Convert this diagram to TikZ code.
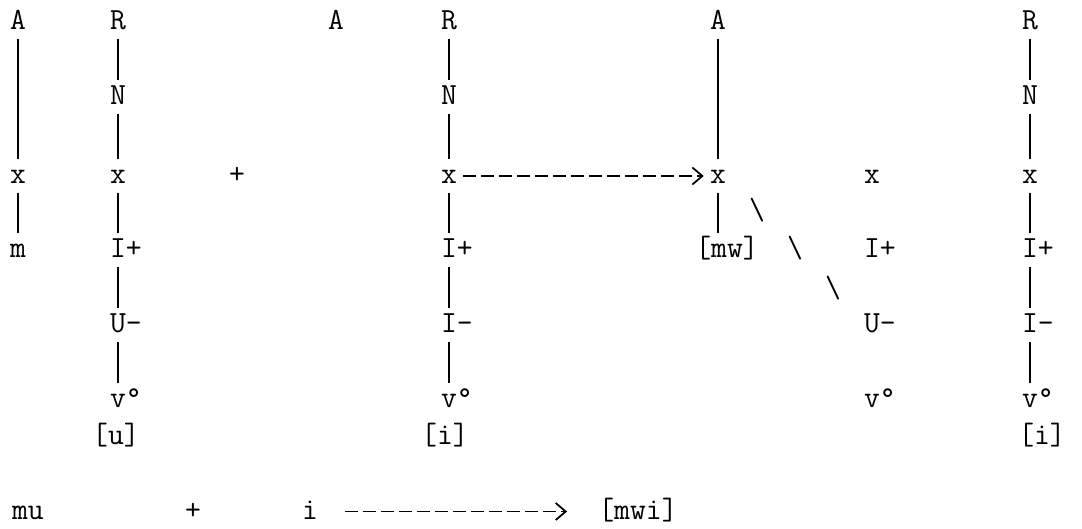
\documentclass[tikz,border=0pt]{standalone}
\usepackage{tikz}
\usetikzlibrary{positioning,arrows.meta}

\begin{document}
\begin{tikzpicture}[
  sym/.style={font=\fontsize{17.5}{20}\selectfont\ttfamily, inner sep=0.12cm, text height=0.37cm, text depth=0.05cm},
  link/.style={line width=0.7pt},
  dasharrow/.style={line width=1pt, dash pattern=on 0.26cm off 0.1cm, -{Straight Barb[length=0.2cm,width=0.34cm,line width=1pt]}}
]
  \useasboundingbox (0,0) rectangle (21.64,10.56);

  % Column 1: A / x / m
  \node[sym] (a1) at (0.36,10.12) {A};
  \node[sym] (x1) at (0.36,7.04) {x};
  \node[sym] (m1) at (0.36,5.56) {m};
  \draw[link] (a1) -- (x1);
  \draw[link] (x1) -- (m1);

  % Column 2: R / N / x / I+ / U- / v
  \node[sym] (r2) at (2.36,10.12) {R};
  \node[sym] (n2) at (2.36,8.62) {N};
  \node[sym] (x2) at (2.36,7.04) {x};
  \node[sym] (i2) at (2.36,5.56) {I\rlap{+}};
  \node[sym] (u2) at (2.36,4.06) {U\rlap{-}};
  \node[sym] (v2) at (2.36,2.56) {v\rlap{\textdegree}};
  \node[sym] (b2) at (2.32,1.82) {[u]};
  \draw[link] (r2) -- (n2);
  \draw[link] (n2) -- (x2);
  \draw[link] (x2) -- (i2);
  \draw[link] (i2) -- (u2);
  \draw[link] (u2) -- (v2);

  \node[sym] (plus1) at (4.74,7.04) {+};

  % Column 3: lone A
  \node[sym] (a3) at (6.72,10.12) {A};

  % Column 4: R / N / x / I+ / I- / v
  \node[sym] (r4) at (8.98,10.12) {R};
  \node[sym] (n4) at (8.98,8.62) {N};
  \node[sym] (x4) at (8.98,7.04) {x};
  \node[sym] (i4) at (8.98,5.56) {I\rlap{+}};
  \node[sym] (j4) at (8.98,4.06) {I\rlap{-}};
  \node[sym] (v4) at (8.98,2.56) {v\rlap{\textdegree}};
  \node[sym] (b4) at (8.90,1.82) {[i]};
  \draw[link] (r4) -- (n4);
  \draw[link] (n4) -- (x4);
  \draw[link] (x4) -- (i4);
  \draw[link] (i4) -- (j4);
  \draw[link] (j4) -- (v4);

  % Column 5: A / x / [mw]
  \node[sym] (a5) at (14.36,10.12) {A};
  \node[sym] (x5) at (14.36,7.04) {x};
  \node[sym] (mw5) at (14.54,5.56) {[mw]};
  \draw[link] (a5) -- (x5);
  \draw[link] (x5) -- (x5 |- mw5.north);
  \draw[dasharrow] (x4) -- (x5);

  % typed diagonal
  \node[sym] (bs1) at (15.14,6.32) {\textbackslash};
  \node[sym] (bs2) at (15.90,5.56) {\textbackslash};
  \node[sym] (bs3) at (16.66,4.76) {\textbackslash};

  % Column 6: x / I+ / U- / v (no links)
  \node[sym] (x6) at (17.44,7.04) {x};
  \node[sym] (i6) at (17.44,5.56) {I\rlap{+}};
  \node[sym] (u6) at (17.44,4.06) {U\rlap{-}};
  \node[sym] (v6) at (17.44,2.56) {v\rlap{\textdegree}};

  % Column 7: R / N / x / I+ / I- / v
  \node[sym] (r7) at (20.6,10.12) {R};
  \node[sym] (n7) at (20.6,8.62) {N};
  \node[sym] (x7) at (20.6,7.04) {x};
  \node[sym] (i7) at (20.6,5.56) {I\rlap{+}};
  \node[sym] (j7) at (20.6,4.06) {I\rlap{-}};
  \node[sym] (v7) at (20.6,2.56) {v\rlap{\textdegree}};
  \node[sym] (b7) at (20.84,1.82) {[i]};
  \draw[link] (r7) -- (n7);
  \draw[link] (n7) -- (x7);
  \draw[link] (x7) -- (i7);
  \draw[link] (i7) -- (j7);
  \draw[link] (j7) -- (v7);

  % Bottom line: mu + i --> [mwi]
  \node[sym] (mu) at (0.56,0.33) {mu};
  \node[sym] (plus2) at (3.86,0.33) {+};
  \node[sym] (iv) at (6.2,0.33) {i};
  \node[sym] (mwi) at (12.76,0.33) {[mwi]};
  \draw[dasharrow, shorten <=0.42cm, shorten >=0.5cm] (iv) -- (mwi);
\end{tikzpicture}
\end{document}
